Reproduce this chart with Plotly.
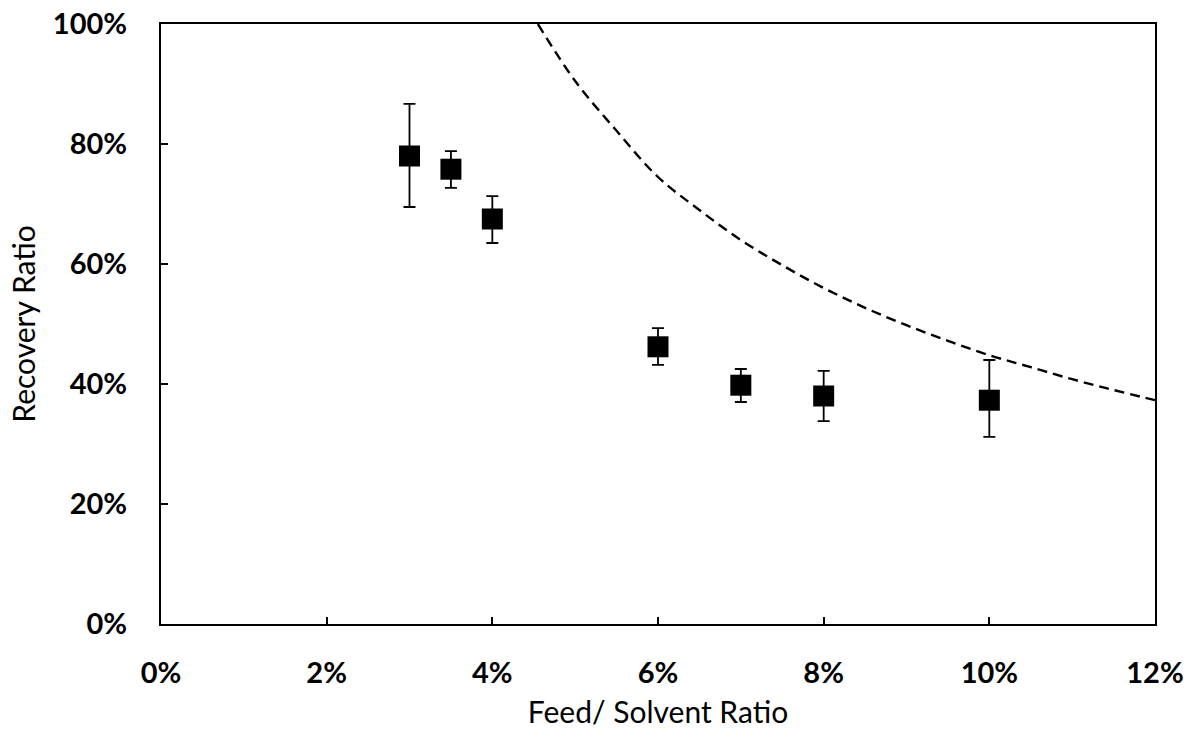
import plotly.graph_objects as go

# Measured data (fractions)
feed_ratio = [0.03, 0.035, 0.04, 0.06, 0.07, 0.08, 0.10]
recovery = [0.780, 0.758, 0.675, 0.462, 0.398, 0.380, 0.373]
err_plus = [0.087, 0.030, 0.038, 0.031, 0.027, 0.042, 0.067]
err_minus = [0.085, 0.031, 0.040, 0.030, 0.028, 0.042, 0.061]

# Dashed reference curve
curve_x = [0.0455, 0.05, 0.055, 0.06, 0.065, 0.07, 0.075, 0.08, 0.085, 0.09, 0.095, 0.10, 0.105, 0.11, 0.115, 0.12]
curve_y = [1.000, 0.905, 0.822, 0.745, 0.690, 0.640, 0.598, 0.560, 0.527, 0.498, 0.472, 0.448, 0.428, 0.408, 0.390, 0.373]

x_ticks = [0, 0.02, 0.04, 0.06, 0.08, 0.10, 0.12]
x_labels = ["0%", "2%", "4%", "6%", "8%", "10%", "12%"]
y_ticks = [0, 0.2, 0.4, 0.6, 0.8, 1.0]
y_labels = ["0%", "20%", "40%", "60%", "80%", "100%"]

FONT = "Lato"

fig = go.Figure()
fig.add_trace(go.Scatter(
    x=curve_x, y=curve_y, mode="lines",
    line=dict(color="black", width=2.4, dash="10px,6px", shape="spline"),
    showlegend=False, hoverinfo="skip",
))
fig.add_trace(go.Scatter(
    x=feed_ratio, y=recovery, mode="markers",
    marker=dict(symbol="square", size=21, color="black"),
    error_y=dict(type="data", symmetric=False, array=err_plus, arrayminus=err_minus,
                 color="black", thickness=1.8, width=6),
    showlegend=False,
))

axis_common = dict(
    showgrid=False, zeroline=False, showline=True, linecolor="black", linewidth=2.2,
    mirror=True, ticks="inside", ticklen=7, tickwidth=1.8, tickcolor="black",
    tickfont=dict(family=FONT, size=29, color="black", weight="bold"),
    automargin=False,
)

fig.update_xaxes(range=[0, 0.12], tickvals=x_ticks, ticktext=x_labels, ticklabelstandoff=22,
                 title=dict(text="Feed/ Solvent Ratio", font=dict(family=FONT, size=30, color="black"), standoff=14),
                 **axis_common)
fig.update_yaxes(range=[0, 1.0], tickvals=y_ticks, ticktext=y_labels, ticklabelstandoff=26,
                 title=dict(text="Recovery Ratio", font=dict(family=FONT, size=30, color="black"), standoff=8),
                 **axis_common)

fig.update_layout(
    width=1189, height=733,
    margin=dict(l=161, r=34, t=24, b=109),
    plot_bgcolor="white", paper_bgcolor="white",
)

fig.write_html("out.html")
